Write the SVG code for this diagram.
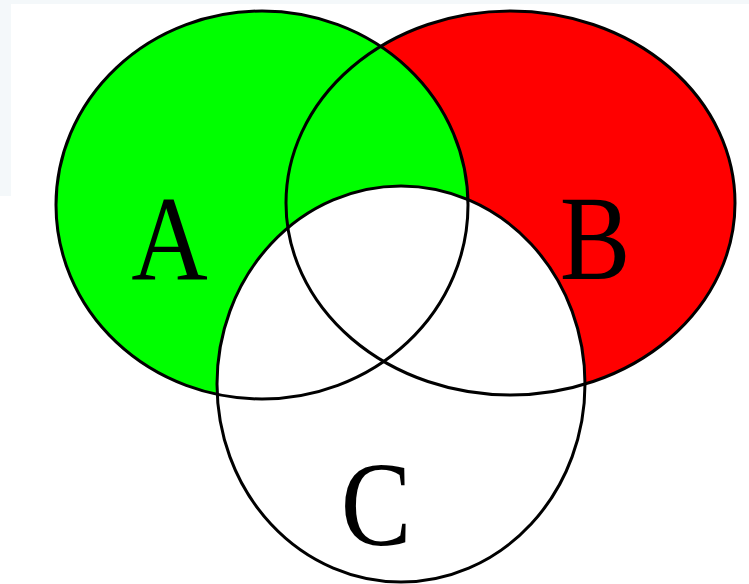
<svg xmlns="http://www.w3.org/2000/svg" xmlns:xlink="http://www.w3.org/1999/xlink" width="749" height="584" viewBox="0 0 749 584">
  <style>
    .outline { fill: none; stroke: #000000; stroke-width: 3; }
    .label { font-family: "Liberation Serif", "Times New Roman", serif; font-size: 106px; fill: #000000; text-anchor: middle; }
  </style>
  <defs>
    <ellipse id="eA" cx="262" cy="205" rx="206" ry="194"/>
    <ellipse id="eB" cx="510.5" cy="203" rx="224.5" ry="192"/>
    <ellipse id="eC" cx="401" cy="384" rx="184" ry="198"/>
  </defs>
  <rect x="0" y="0" width="749" height="584" fill="#ffffff"/>
  <rect x="0" y="0" width="749" height="4" fill="#f4f8fa"/>
  <rect x="0" y="0" width="11" height="196" fill="#f4f8fa"/>
  <g id="fills">
    <use xlink:href="#eB" href="#eB" fill="#ff0000"/>
    <use xlink:href="#eA" href="#eA" fill="#00ff00"/>
    <use xlink:href="#eC" href="#eC" fill="#ffffff"/>
  </g>
  <g id="connectors"></g>
  <g id="A">
    <use xlink:href="#eA" href="#eA" class="outline"/>
    <text class="label" transform="translate(169.5,280) scale(1,1.14)">A</text>
  </g>
  <g id="B">
    <use xlink:href="#eB" href="#eB" class="outline"/>
    <text class="label" transform="translate(595,279) scale(1,1.14)">B</text>
  </g>
  <g id="C">
    <use xlink:href="#eC" href="#eC" class="outline"/>
    <text class="label" transform="translate(376,545) scale(1,1.14)">C</text>
  </g>
</svg>
